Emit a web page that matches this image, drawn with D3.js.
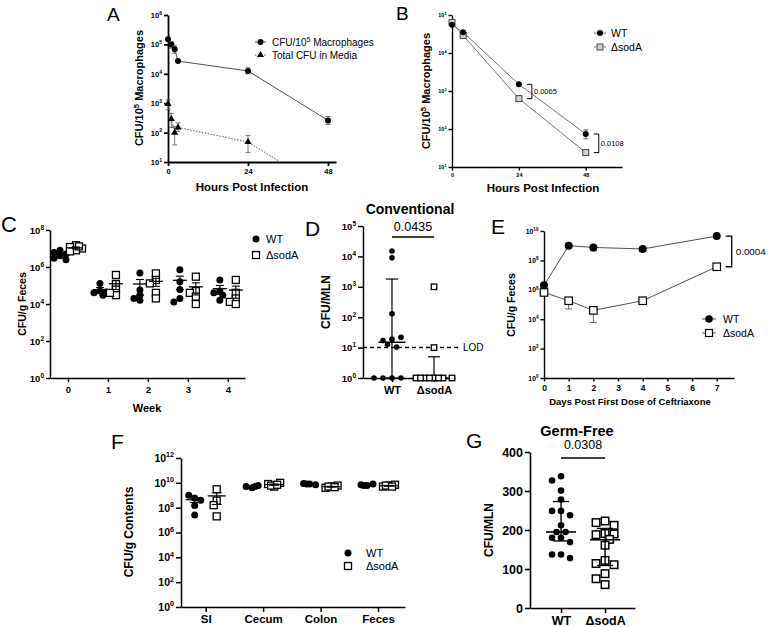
<!DOCTYPE html>
<html><head><meta charset="utf-8">
<script src="https://cdn.jsdelivr.net/npm/d3@7"></script>
<style>body{margin:0;background:#fff}svg{display:block}</style>
</head><body>
<script>
// ================= DATA =================
// Panel A
const hoursA = [0, 1, 2, 3, 24, 48];
const macroA = [1.5e5, 1.0e5, 6.8e4, 2.7e4, 1.25e4, 2.6e2];
const macroLoA = [1.5e5, 7.5e4, 5.0e4, 2.7e4, 1.0e4, 1.9e2];
const macroHiA = [1.5e5, 1.25e5, 9.0e4, 2.7e4, 1.6e4, 3.5e2];
const mediaA = [9.5e2, 2.9e2, 1.0e2, 1.5e2, 48, 1];
const mediaLoA = [6e2, 1.5e2, 38, 110, 21, 1];
const mediaHiA = [1.3e3, 4.5e2, 160, 215, 80, 1];
const yTicksA = [1e1, 1e2, 1e3, 1e4, 1e5, 1e6];
const xTicksA = [0, 24, 48];
// Panel B
const hoursB = [0, 4, 24, 48];
const wtB = [5.5e4, 3.5e4, 1.5e3, 74];
const wtLoB = [5.5e4, 3.5e4, 1.5e3, 55];
const wtHiB = [5.5e4, 3.5e4, 1.5e3, 95];
const sodB = [6.4e4, 2.9e4, 6.3e2, 24];
const pB = ["0.0065", "0.0108"];
const pHoursB = [24, 48];
const yTicksB = [1e1, 1e2, 1e3, 1e4, 1e5];
const xTicksB = [0, 24, 48];
// Panel C
const weeksC = [0, 1, 2, 3, 4];
const wtC = [[8e6, 6e6, 5e6, 4e6, 3e6, 2.5e6], [1.3e5, 5e4, 4e4, 3e4, 4.5e4], [4.8e5, 5.7e4, 3e4, 1.6e4, 2e4], [7e5, 1.6e5, 6e4, 2e4, 1.3e4], [2e5, 5e4, 4e4, 3e4, 1.6e4]];
const sodC = [[1.5e7, 1.2e7, 1e7, 8e6, 7e6, 1.3e7], [3.7e5, 1.2e5, 6e4, 3e4, 4e4], [4.5e5, 2e5, 1.3e5, 4e4, 2e4], [3e5, 5e4, 4e4, 2.5e4, 1e4], [2e5, 4e4, 2e4, 1.3e4, 1e4]];
const yTicksC = [1, 1e2, 1e4, 1e6, 1e8];
// Panel D
const groupsD = ["WT", "ΔsodA"];
const wtD = [1.5e4, 9e3, 130, 19, 17, 12.6, 10.5, 22, 1, 1, 1, 1];
const sodD = [1000, 10, 1, 1, 1, 1, 1, 1, 1, 1];
const midD = [15, 1], hiD = [1.8e3, 5], loD = [1, 1];
const lodD = 10;
const pD = "0.0435";
const yTicksD = [1, 1e1, 1e2, 1e3, 1e4, 1e5];
// Panel E
const daysE = [0, 1, 2, 4, 7];
const wtE = [2e6, 1e9, 7.6e8, 6e8, 4.5e9];
const wtLoE = [1.5e6, 8e8, 4.5e8, 4e8, 4e9];
const sodE = [6.6e5, 1.8e5, 4e4, 1.8e5, 3.7e7];
const sodLoE = [6.6e5, 5e4, 6e3, 1.5e5, 3e7];
const pE = "0.0004";
const yTicksE = [1, 1e2, 1e4, 1e6, 1e8, 1e10];
const xTicksE = [0, 1, 2, 3, 4, 5, 6, 7];
// Panel F
const sitesF = ["SI", "Cecum", "Colon", "Feces"];
const wtF = [[6e8, 1e9, 1.5e8, 2.6e7, 4e8], [4e9, 5e9, 6e9, 5e9], [8e9, 9e9, 7e9, 8e9], [6e9, 7e9, 8e9, 6e9]];
const sodF = [[3e9, 3.7e8, 1.6e8, 2e7], [5e9, 8e9, 1e10, 6e9, 7e9], [5e9, 4e9, 6e9, 5e9, 4.5e9], [6e9, 5e9, 7e9, 6e9, 5e9]];
const yTicksF = [1, 1e2, 1e4, 1e6, 1e8, 1e10, 1e12];
// Panel G
const groupsG = ["WT", "ΔsodA"];
const wtG = [338, 327, 301, 278, 249, 249, 238, 212, 195, 195, 180, 180, 169, 137, 137, 128];
const sodG = [223, 219, 212, 191, 188, 190, 176, 161, 122, 114, 111, 88, 75, 60];
const midG = [195, 175], hiG = [273, 204], loG = [172, 109];
const pG = "0.0308";
const yTicksG = [0, 100, 200, 300, 400];

// ================= HELPERS =================
const FONT = '"Liberation Sans", Arial, Helvetica, sans-serif';
const svg = d3.select("body").append("svg").attr("width", 768).attr("height", 627)
  .attr("font-family", FONT);

function styleAxis(g, sw, fs, bold) {
  g.attr("font-family", FONT).attr("font-size", fs).attr("font-weight", bold ? "bold" : "normal");
  g.select(".domain").attr("stroke", "#000").attr("stroke-width", sw);
  g.selectAll(".tick line").attr("stroke", "#000").attr("stroke-width", sw);
  g.selectAll(".tick text").attr("fill", "#000");
}
function logLabels(g, fs) {
  g.selectAll(".tick text").each(function (d) {
    const t = d3.select(this); t.text(null);
    const e = Math.round(Math.log10(d));
    t.append("tspan").text("10");
    t.append("tspan").attr("dy", -fs * 0.42).attr("font-size", fs * 0.68).text(e);
  });
}
function text(x, y, s, fs, opts = {}) {
  return svg.append("text").attr("x", x).attr("y", y).attr("font-size", fs)
    .attr("font-weight", opts.bold ? "bold" : "normal")
    .attr("text-anchor", opts.anchor || "start").attr("fill", "#000").text(s);
}
function ylabel(x, y, fs, parts) {
  const t = svg.append("text").attr("transform", `translate(${x},${y}) rotate(-90)`)
    .attr("text-anchor", "middle").attr("font-size", fs).attr("font-weight", "bold").attr("fill", "#000");
  let shifted = 0;
  parts.forEach(p => {
    if (p.sup) {
      t.append("tspan").attr("dy", -fs * 0.4).attr("font-size", fs * 0.7).text(p.t); shifted = fs * 0.4;
    } else {
      t.append("tspan").attr("dy", shifted).text(p.t); shifted = 0;
    }
  });
  return t;
}
function dot(g, x, y, r, fill = "#000") {
  g.append("circle").attr("cx", x).attr("cy", y).attr("r", r).attr("fill", fill);
}
function sq(g, x, y, s, fill, stroke, sw) {
  g.append("rect").attr("x", x - s / 2).attr("y", y - s / 2).attr("width", s).attr("height", s)
    .attr("fill", fill).attr("stroke", stroke).attr("stroke-width", sw);
}
function vErr(g, x, y1, y2, cap, color, sw) {
  g.append("line").attr("x1", x).attr("x2", x).attr("y1", y1).attr("y2", y2).attr("stroke", color).attr("stroke-width", sw);
  [y1, y2].forEach(y => g.append("line").attr("x1", x - cap).attr("x2", x + cap).attr("y1", y).attr("y2", y).attr("stroke", color).attr("stroke-width", sw));
}
function hline(g, x1, x2, y, sw, color = "#000") {
  g.append("line").attr("x1", x1).attr("x2", x2).attr("y1", y).attr("y2", y).attr("stroke", color).attr("stroke-width", sw);
}
// bounded beeswarm offsets
function swarm(ys, r, step, maxK) {
  const placed = [], out = [];
  ys.forEach((y, i) => {
    let best = 0, bestD = -1;
    for (let k = 0; k <= maxK; k++) {
      const off = k === 0 ? 0 : (k % 2 ? -1 : 1) * Math.ceil(k / 2) * step;
      const dmin = placed.length ? d3.min(placed, p => Math.hypot(p.x - off, p.y - y)) : Infinity;
      if (dmin >= 2 * r) { best = off; bestD = Infinity; break; }
      if (dmin > bestD) { bestD = dmin; best = off; }
    }
    placed.push({ x: best, y }); out[i] = best;
  });
  return out;
}
const mean = a => d3.mean(a);
const sem = a => d3.deviation(a) / Math.sqrt(a.length);

// ================= PANEL A =================
{
  const x = d3.scaleLinear().domain([0, 50.4]).range([168, 336]);
  const y = d3.scaleLog().domain([10, 1e6]).range([162, 15]);
  const ga = svg.append("g").attr("transform", "translate(168,0)")
    .call(d3.axisLeft(y).tickValues(yTicksA).tickSize(4).tickSizeOuter(0).tickPadding(2).tickFormat(""));
  styleAxis(ga, 1.8, 7.5, true); logLabels(ga, 7.5);
  const gx = svg.append("g").attr("transform", "translate(0,162)")
    .call(d3.axisBottom(x).tickValues(xTicksA).tickSize(4).tickSizeOuter(0).tickPadding(3));
  styleAxis(gx, 1.8, 7.5, true);
  svg.append("clipPath").attr("id", "clipA").append("rect").attr("x", 150).attr("y", 0).attr("width", 200).attr("height", 161);
  const g = svg.append("g").attr("clip-path", "url(#clipA)");
  g.append("path").attr("d", d3.line().x((d, i) => x(hoursA[i])).y(d => y(d))(mediaA))
    .attr("fill", "none").attr("stroke", "#555").attr("stroke-width", 1).attr("stroke-dasharray", "1.5,1.5");
  g.append("path").attr("d", d3.line().x((d, i) => x(hoursA[i])).y(d => y(d))(macroA))
    .attr("fill", "none").attr("stroke", "#222").attr("stroke-width", 0.8);
  hoursA.forEach((h, i) => {
    if (macroHiA[i] > macroLoA[i]) vErr(g, x(h), y(macroLoA[i]), y(macroHiA[i]), 2.5, "#555", 0.8);
    if (mediaHiA[i] > mediaLoA[i]) vErr(g, x(h), y(mediaLoA[i]), y(mediaHiA[i]), 2.5, "#555", 0.8);
    dot(g, x(h), y(macroA[i]), 3);
    g.append("path").attr("d", d3.symbol(d3.symbolTriangle, 22)()).attr("transform", `translate(${x(h)},${y(mediaA[i])})`).attr("fill", "#000");
  });
  // legend
  hline(svg, 255, 266, 42, 0.8, "#222"); dot(svg, 260.5, 42, 3);
  const t1 = text(272, 45.5, "CFU/10", 10);
  t1.append("tspan").attr("dy", -4).attr("font-size", 7).text("5");
  t1.append("tspan").attr("dy", 4).text(" Macrophages");
  svg.append("line").attr("x1", 255).attr("x2", 266).attr("y1", 55).attr("y2", 55).attr("stroke", "#555").attr("stroke-dasharray", "1.5,1.5");
  svg.append("path").attr("d", d3.symbol(d3.symbolTriangle, 22)()).attr("transform", "translate(260.5,55)");
  text(272, 58.5, "Total CFU in Media", 10);
  ylabel(143, 88, 11, [{ t: "CFU/10" }, { t: "5", sup: true }, { t: " Macrophages" }]);
  text(252, 191, "Hours Post Infection", 11.5, { bold: true, anchor: "middle" });
  text(107, 21, "A", 19);
}

// ================= PANEL B =================
{
  const x = d3.scaleLinear().domain([0, 61]).range([452, 622]);
  const y = d3.scaleLog().domain([10, 1e5]).range([167, 15]);
  const ga = svg.append("g").attr("transform", "translate(452,0)")
    .call(d3.axisLeft(y).tickValues(yTicksB).tickSize(3.5).tickSizeOuter(0).tickPadding(2).tickFormat(""));
  styleAxis(ga, 1.4, 5.5, true); logLabels(ga, 5.5);
  const gx = svg.append("g").attr("transform", "translate(0,167)")
    .call(d3.axisBottom(x).tickValues(xTicksB).tickSize(3.5).tickSizeOuter(0).tickPadding(3));
  styleAxis(gx, 1.4, 5.5, true);
  const g = svg.append("g");
  const ln = d3.line().x((d, i) => x(hoursB[i])).y(d => y(d));
  g.append("path").attr("d", ln(wtB)).attr("fill", "none").attr("stroke", "#555").attr("stroke-width", 0.8);
  g.append("path").attr("d", ln(sodB)).attr("fill", "none").attr("stroke", "#555").attr("stroke-width", 0.8);
  hoursB.forEach((h, i) => {
    if (wtHiB[i] > wtLoB[i]) vErr(g, x(h), y(wtLoB[i]), y(wtHiB[i]), 2.5, "#444", 0.8);
    sq(g, x(h), y(sodB[i]), 6, "#d0d0d0", "#444", 1);
    dot(g, x(h), y(wtB[i]), 3);
  });
  pHoursB.forEach((h, k) => {
    const i = hoursB.indexOf(h);
    const bx = x(h) + 8, y1 = y(wtB[i]), y2 = y(sodB[i]);
    g.append("path").attr("d", `M${bx},${y1}H${bx + 5}V${y2}H${bx}`).attr("fill", "none").attr("stroke", "#000").attr("stroke-width", 1);
    text(bx + 7, (y1 + y2) / 2 + 2.5, pB[k], 7.5);
  });
  hline(svg, 594, 606, 33, 0.8, "#555"); dot(svg, 600, 33, 3);
  text(611, 36.5, "WT", 10.5);
  hline(svg, 594, 606, 47, 0.8, "#555"); sq(svg, 600, 47, 6, "#d0d0d0", "#444", 1);
  text(611, 50.5, "ΔsodA", 10.5);
  ylabel(430, 91, 11, [{ t: "CFU/10" }, { t: "5", sup: true }, { t: " Macrophages" }]);
  text(543, 192, "Hours Post Infection", 11.5, { bold: true, anchor: "middle" });
  text(396, 20, "B", 19);
}

// ================= PANEL C =================
{
  const x = d3.scaleLinear().domain([-0.45, 4.43]).range([50, 245]);
  const y = d3.scaleLog().domain([1, 1e8]).range([378, 230]);
  const ga = svg.append("g").attr("transform", "translate(50,0)")
    .call(d3.axisLeft(y).tickValues(yTicksC).tickSize(4).tickSizeOuter(0).tickPadding(2).tickFormat(""));
  styleAxis(ga, 1.5, 9.5, true); logLabels(ga, 9.5);
  const gx = svg.append("g").attr("transform", "translate(0,378)")
    .call(d3.axisBottom(x).tickValues(weeksC).tickFormat(d3.format("d")).tickSize(4).tickSizeOuter(0).tickPadding(4));
  styleAxis(gx, 1.5, 9.5, true);
  const g = svg.append("g");
  weeksC.forEach((w, i) => {
    [[wtC[i], -8, "wt"], [sodC[i], 8, "sod"]].forEach(([vals, off, kind]) => {
      const cx = x(w) + off;
      const ys = vals.map(v => y(v));
      const offs = swarm(ys, 2.5, 3, 4);
      ys.forEach((yy, j) => {
        if (kind === "wt") dot(g, cx + offs[j], yy, 3.5);
        else sq(g, cx + offs[j], yy, 7, "#fff", "#000", 1.3);
      });
      const m = mean(vals), s = sem(vals);
      hline(g, cx - 7, cx + 7, y(m), 1.3);
      vErr(g, cx, y(m - s), y(m + s), 4, "#000", 1.1);
    });
  });
  dot(svg, 256, 239, 3.5); text(266, 243, "WT", 11);
  sq(svg, 256, 255, 7, "#fff", "#000", 1.3); text(266, 259, "ΔsodA", 11);
  ylabel(26, 304, 10.5, [{ t: "CFU/g Feces" }]);
  text(147, 412, "Week", 11, { bold: true, anchor: "middle" });
  text(1, 232, "C", 22);
}

// ================= PANEL D =================
{
  const x = d3.scaleLinear().domain([-0.69, 1.5]).range([363, 455]);
  const y = d3.scaleLog().domain([1, 1e5]).range([378, 226]);
  const ga = svg.append("g").attr("transform", "translate(363,0)")
    .call(d3.axisLeft(y).tickValues(yTicksD).tickSize(5).tickSizeOuter(0).tickPadding(2).tickFormat(""));
  styleAxis(ga, 1.5, 9.5, true); logLabels(ga, 9.5);
  const gx = svg.append("g").attr("transform", "translate(0,378)")
    .call(d3.axisBottom(x).tickValues([0, 1]).tickFormat(i => groupsD[i]).tickSize(4).tickSizeOuter(0).tickPadding(4));
  styleAxis(gx, 1.5, 11, true);
  const g = svg.append("g");
  g.append("line").attr("x1", 363).attr("x2", 460).attr("y1", y(lodD)).attr("y2", y(lodD))
    .attr("stroke", "#000").attr("stroke-width", 1.5).attr("stroke-dasharray", "4,3");
  text(463, y(lodD) + 3.5, "LOD", 10);
  [[wtD, 0], [sodD, 1]].forEach(([vals, i]) => {
    const cx = x(i);
    vErr(g, cx, y(loD[i]), y(hiD[i]), 6, "#000", 1.2);
    hline(g, cx - 13.5, cx + 13.5, y(midD[i]), 1.5);
    const ys = vals.map(v => y(v));
    const offs = swarm(ys, 2.8, 4.5, 8);
    ys.forEach((yy, j) => {
      if (i === 0) dot(g, cx + offs[j], yy, 2.8);
      else sq(g, cx + offs[j], yy, 5.5, "#fff", "#000", 1.3);
    });
  });
  hline(svg, x(0), x(1), 237, 1.6);
  text((x(0) + x(1)) / 2, 231, pD, 12.5, { anchor: "middle" });
  text(410, 214, "Conventional", 14, { bold: true, anchor: "middle" });
  ylabel(330, 302, 12, [{ t: "CFU/MLN" }]);
  text(305, 236, "D", 21);
}

// ================= PANEL E =================
{
  const x = d3.scaleLinear().domain([0, 7.7]).range([544, 734]);
  const y = d3.scaleLog().domain([1, 1e10]).range([378, 231]);
  const ga = svg.append("g").attr("transform", "translate(544,0)")
    .call(d3.axisLeft(y).tickValues(yTicksE).tickSize(3.5).tickSizeOuter(0).tickPadding(2).tickFormat(""));
  styleAxis(ga, 1.4, 6.8, true); logLabels(ga, 6.8);
  const gx = svg.append("g").attr("transform", "translate(0,378)")
    .call(d3.axisBottom(x).tickValues(xTicksE).tickSize(3.5).tickSizeOuter(0).tickPadding(3));
  styleAxis(gx, 1.4, 8.5, true);
  const g = svg.append("g");
  const ln = d3.line().x((d, i) => x(daysE[i])).y(d => y(d));
  g.append("path").attr("d", ln(wtE)).attr("fill", "none").attr("stroke", "#222").attr("stroke-width", 0.8);
  g.append("path").attr("d", ln(sodE)).attr("fill", "none").attr("stroke", "#222").attr("stroke-width", 0.8);
  daysE.forEach((d, i) => {
    if (wtLoE[i] < wtE[i]) vErr(g, x(d), y(wtE[i]), y(wtLoE[i]), 3.5, "#444", 0.8);
    if (sodLoE[i] < sodE[i]) vErr(g, x(d), y(sodE[i]), y(sodLoE[i]), 3.5, "#444", 0.8);
    sq(g, x(d), y(sodE[i]), 7.5, "#fff", "#000", 1.2);
    dot(g, x(d), y(wtE[i]), 4);
  });
  const bx = x(7) + 9, y1 = y(wtE[4]), y2 = y(sodE[4]);
  g.append("path").attr("d", `M${bx},${y1}H${bx + 6}V${y2}H${bx}`).attr("fill", "none").attr("stroke", "#000").attr("stroke-width", 1.3);
  text(bx + 10, (y1 + y2) / 2 + 3.5, pE, 9.8);
  hline(svg, 702, 716, 319, 0.8, "#222"); dot(svg, 709, 319, 3.8); text(723, 322.5, "WT", 10.5);
  hline(svg, 702, 716, 333, 0.8, "#222"); sq(svg, 709, 333, 7, "#fff", "#000", 1.2); text(723, 336.5, "ΔsodA", 10.5);
  ylabel(515, 305, 10.5, [{ t: "CFU/g Feces" }]);
  text(630, 405, "Days Post First Dose of Ceftriaxone", 9.5, { bold: true, anchor: "middle" });
  text(491, 234, "E", 21);
}

// ================= PANEL F =================
{
  const x = d3.scaleLinear().domain([-0.43, 3.47]).range([181, 405]);
  const y = d3.scaleLog().domain([1, 1e12]).range([607, 458]);
  const ga = svg.append("g").attr("transform", "translate(181,0)")
    .call(d3.axisLeft(y).tickValues(yTicksF).tickSize(5).tickSizeOuter(0).tickPadding(2).tickFormat(""));
  styleAxis(ga, 1.5, 10.5, true); logLabels(ga, 10.5);
  const gx = svg.append("g").attr("transform", "translate(0,607)")
    .call(d3.axisBottom(x).tickValues([0, 1, 2, 3]).tickFormat(i => sitesF[i]).tickSize(5).tickSizeOuter(0).tickPadding(3));
  styleAxis(gx, 1.5, 11.5, true);
  const g = svg.append("g");
  sitesF.forEach((s, i) => {
    [[wtF[i], -11, "wt"], [sodF[i], 11, "sod"]].forEach(([vals, off, kind]) => {
      const cx = x(i) + off;
      const ys = vals.map(v => y(v));
      const offs = swarm(ys, 2.5, 3, 4);
      ys.forEach((yy, j) => {
        if (kind === "wt") dot(g, cx + offs[j], yy, 3.5);
        else sq(g, cx + offs[j], yy, 7, "#fff", "#000", 1.3);
      });
      const m = mean(vals), e = sem(vals);
      hline(g, cx - 9, cx + 9, y(m), 1.3);
      vErr(g, cx, y(Math.max(m - e, 1)), y(m + e), 5, "#000", 1.1);
    });
  });
  dot(svg, 348, 553, 3.5); text(366, 557, "WT", 11);
  sq(svg, 348, 566, 7, "#fff", "#000", 1.3); text(366, 570, "ΔsodA", 11);
  ylabel(133, 532, 12, [{ t: "CFU/g Contents" }]);
  text(111, 449, "F", 21);
}

// ================= PANEL G =================
{
  const x = d3.scaleLinear().domain([-0.705, 1.68]).range([530, 635]);
  const y = d3.scaleLinear().domain([0, 400]).range([608, 452]);
  const ga = svg.append("g").attr("transform", "translate(530,0)")
    .call(d3.axisLeft(y).tickValues(yTicksG).tickSize(5).tickSizeOuter(0).tickPadding(2));
  styleAxis(ga, 1.6, 12.5, true);
  const gx = svg.append("g").attr("transform", "translate(0,608)")
    .call(d3.axisBottom(x).tickValues([0, 1]).tickFormat(i => groupsG[i]).tickSize(5).tickSizeOuter(0).tickPadding(3));
  styleAxis(gx, 1.6, 12.5, true);
  const g = svg.append("g");
  [[wtG, 0], [sodG, 1]].forEach(([vals, i]) => {
    const cx = x(i);
    const ys = vals.map(v => y(v));
    const offs = swarm(ys, 3.6, 4.5, 4);
    ys.forEach((yy, j) => {
      if (i === 0) dot(g, cx + offs[j], yy, 3.3);
      else sq(g, cx + offs[j], yy, 7.5, "#fff", "#000", 1.5);
    });
    vErr(g, cx, y(loG[i]), y(hiG[i]), 8, "#000", 1.4);
    hline(g, cx - 15, cx + 15, y(midG[i]), 1.6);
  });
  hline(svg, x(0), x(1), 458, 1.6);
  text((x(0) + x(1)) / 2, 449, pG, 12.5, { anchor: "middle" });
  text(577, 436, "Germ-Free", 14.5, { bold: true, anchor: "middle" });
  ylabel(493, 530, 12, [{ t: "CFU/MLN" }]);
  text(466, 448, "G", 21);
}
</script>
</body></html>
